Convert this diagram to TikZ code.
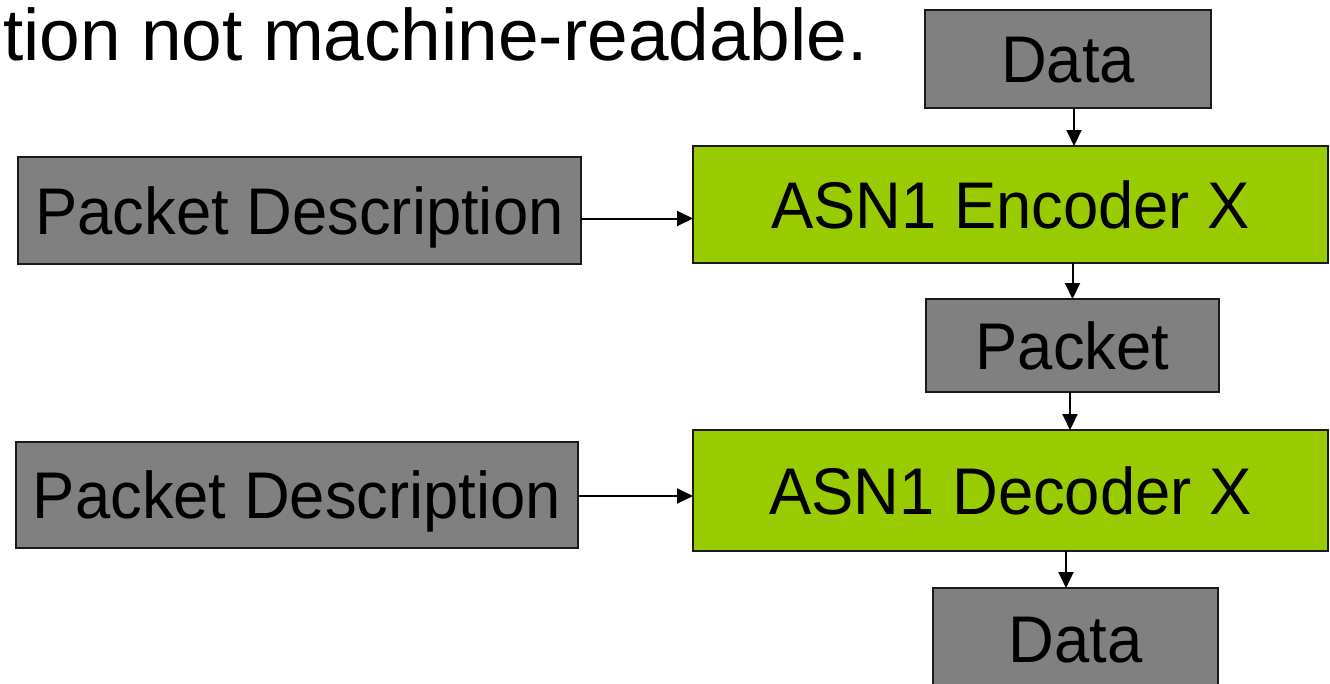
\documentclass[tikz,border=0pt]{standalone}
\usepackage{fontspec}
\setmainfont{Liberation Sans}
\newfontfamily\boxfont{Liberation Sans}[FakeStretch=0.96]
\usetikzlibrary{arrows.meta}
\definecolor{boxgray}{HTML}{808080}
\definecolor{boxgreen}{HTML}{99CC00}
\definecolor{boxline}{HTML}{1A1A1A}
\begin{document}
\begin{tikzpicture}[x=1pt,y=-1pt,
  blk/.style={draw=boxline, line width=2pt, inner sep=0pt, outer sep=0pt,
    font=\boxfont\fontsize{66}{72}\selectfont, text height=47.3pt, text depth=0pt},
  graybox/.style={blk, fill=boxgray},
  greenbox/.style={blk, fill=boxgreen},
  flow/.style={line width=2pt, -{Triangle[length=16pt,width=15pt]}}]
\useasboundingbox (0,0) rectangle (1330,683);
\clip (0,0) rectangle (1330,683);

% heading line, running off the left edge
\node[font=\fontsize{73}{80}\selectfont, anchor=base east, inner sep=0pt] (title) at (868,60) {tion not machine-readable.};

% encoder chain
\node[graybox, minimum width=286pt, minimum height=98pt] (dataIn) at (1068,59) {Data};
\node[greenbox, minimum width=635pt, minimum height=117pt] (enc) at (1010.5,204.5) {ASN1 Encoder X};
\node[graybox, minimum width=563pt, minimum height=107pt] (descA) at (299.5,210.5) {Packet Description};
\node[graybox, minimum width=293pt, minimum height=93pt] (pkt) at (1072.5,345.5) {Packet};

% decoder chain
\node[greenbox, minimum width=635pt, minimum height=121pt] (dec) at (1010.5,490.5) {ASN1 Decoder X};
\node[graybox, minimum width=562pt, minimum height=106pt] (descB) at (297,495) {Packet Description};
\node[graybox, minimum width=285pt, minimum height=102pt] (dataOut) at (1075.5,639) {Data};

% connectors
\draw[flow] ([xshift=6pt]dataIn.south) -- ([xshift=6pt]dataIn.south |- enc.north);
\draw[flow] ([yshift=-8pt]descA.east) -- ([yshift=-8pt]descA.east -| enc.west);
\draw[flow] (pkt.north |- enc.south) -- (pkt.north);
\draw[flow] ([xshift=-2.5pt]pkt.south) -- ([xshift=-2.5pt]pkt.south |- dec.north);
\draw[flow] ([yshift=-1pt]descB.east) -- ([yshift=-1pt]descB.east -| dec.west);
\draw[flow] ([xshift=-9.5pt]dataOut.north |- dec.south) -- ([xshift=-9.5pt]dataOut.north);
\end{tikzpicture}
\end{document}
